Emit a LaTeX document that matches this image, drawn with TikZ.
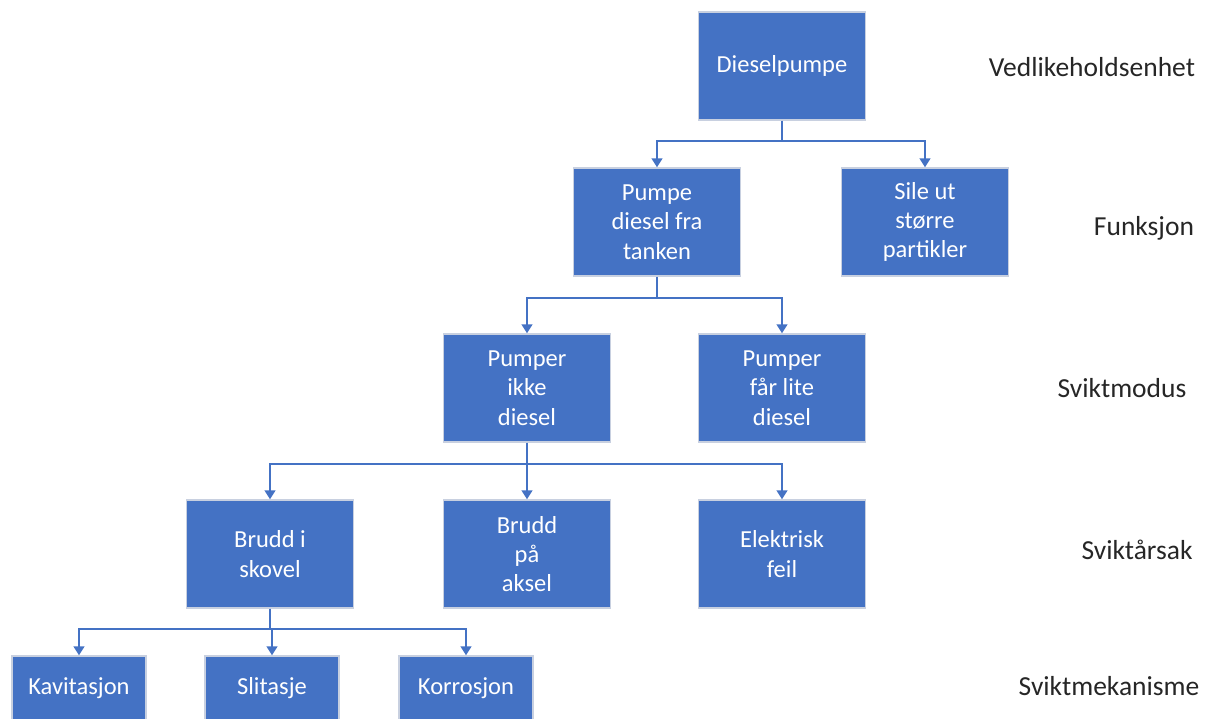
\documentclass[tikz,border=0pt]{standalone}
\usepackage{fontspec}
\setmainfont{Carlito}
\usepackage{tikz}
\definecolor{boxblue}{RGB}{68, 114, 196}
\definecolor{boxedge}{RGB}{200, 208, 224}
\definecolor{levelgray}{RGB}{38, 38, 38}
\usetikzlibrary{shapes,arrows.meta}
\newcommand{\blockfont}{\fontsize{24.5}{29.4}\selectfont}
\newcommand{\levelfont}{\fontsize{27.5}{33}\selectfont}
\tikzstyle{block} = [rectangle, draw=boxedge, line width=1.5pt, fill=boxblue, text=white,
    align=center, inner sep=0pt, minimum width=167pt, minimum height=108pt, font=\blockfont]
\tikzstyle{leaf} = [block, minimum width=134pt, minimum height=64pt]
\tikzstyle{level} = [text=levelgray, font=\levelfont]
\tikzstyle{line} = [draw=boxblue, line width=1.5pt, -{Triangle[width=11pt,length=9pt]}]

\begin{document}
\begin{tikzpicture}[x=1pt, y=-1pt, node distance=156pt]
  \clip (0,0) rectangle (1210,718);
  \node [block] (dpump) at (782,66) {Dieselpumpe};
  \node [block, below of=dpump, xshift=-125pt] (pump_fuel) {Pumpe\\diesel fra\\tanken};
  \node [block, right of=pump_fuel, node distance=268pt] (strain) {Sile ut\\større\\partikler};
  \node [block, below of=pump_fuel, node distance=166pt, xshift=-130pt] (no_fuel) {Pumper\\ikke\\diesel};
  \node [block, right of=no_fuel, node distance=255pt] (low_fuel) {Pumper\\får lite\\diesel};
  \node [block, below of=no_fuel, node distance=166pt, xshift=-257pt] (blade) {Brudd i\\skovel};
  \node [block, right of=blade, node distance=257pt] (shaft) {Brudd\\på\\aksel};
  \node [block, right of=shaft, node distance=255pt] (electric) {Elektrisk\\feil};
  \node [leaf, below of=blade, node distance=134pt, xshift=-191pt] (cavit) {Kavitasjon};
  \node [leaf, right of=cavit, node distance=193pt] (wear) {Slitasje};
  \node [leaf, right of=wear, node distance=194pt] (corr) {Korrosjon};
  \node [level, right of=dpump, node distance=310pt, yshift=-1pt] (lbl_unit) {Vedlikeholdsenhet};
  \node [level, right of=strain, node distance=219pt, yshift=-6pt] (lbl_func) {Funksjon};
  \node [level, right of=low_fuel, node distance=340pt] (lbl_mode) {Sviktmodus};
  \node [level, right of=electric, node distance=355pt, yshift=4pt] (lbl_cause) {Sviktårsak};
  \node [level, right of=corr, node distance=643pt, yshift=2pt] (lbl_mech) {Sviktmekanisme};
  \path [line] (dpump.south) -- ++(0,-20pt) -| (pump_fuel.north);
  \path [line] (dpump.south) -- ++(0,-20pt) -| (strain.north);
  \path [line] (pump_fuel.south) -- ++(0,-21pt) -| (no_fuel.north);
  \path [line] (pump_fuel.south) -- ++(0,-21pt) -| (low_fuel.north);
  \path [line] (no_fuel.south) -- ++(0,-21pt) -| (blade.north);
  \path [line] (no_fuel.south) -- (shaft.north);
  \path [line] (no_fuel.south) -- ++(0,-21pt) -| (electric.north);
  \path [line] (blade.south) -- ++(0,-20pt) -| (cavit.north);
  \path [line] (blade.south) -- ++(0,-20pt) -| (wear.north);
  \path [line] (blade.south) -- ++(0,-20pt) -| (corr.north);
\end{tikzpicture}
\end{document}
